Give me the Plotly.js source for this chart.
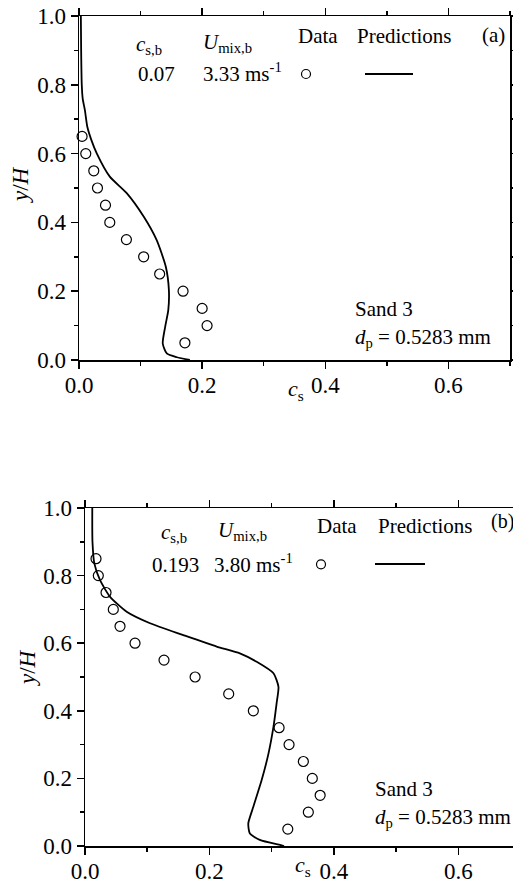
<!DOCTYPE html>
<html>
<head>
<meta charset="utf-8">
<script src="https://cdn.plot.ly/plotly-3.0.1.min.js"></script>
<style>html,body{margin:0;padding:0;background:#fff;}#chart{width:513px;height:885px;}</style>
</head>
<body>
<div id="chart"></div>
<script>
// ---- Panel (a): Sand 3, c_s,b = 0.07, U_mix,b = 3.33 m/s ----
const dataA_cs = [0.005, 0.011, 0.024, 0.030, 0.043, 0.050, 0.077, 0.105, 0.131, 0.169, 0.200, 0.208, 0.172];
const dataA_y  = [0.65, 0.60, 0.55, 0.50, 0.45, 0.40, 0.35, 0.30, 0.25, 0.20, 0.15, 0.10, 0.05];
const predA_cs = [0.003, 0.0035, 0.0045, 0.006, 0.0095, 0.0135, 0.020, 0.029, 0.050, 0.0775, 0.105, 0.126, 0.141, 0.146, 0.145, 0.140, 0.136, 0.1426, 0.159, 0.180];
const predA_y  = [1.00, 0.90, 0.80, 0.76, 0.727, 0.678, 0.64, 0.60, 0.533, 0.485, 0.417, 0.349, 0.271, 0.203, 0.145, 0.097, 0.048, 0.019, 0.008, 0.0];

// ---- Panel (b): Sand 3, c_s,b = 0.193, U_mix,b = 3.80 m/s ----
const dataB_cs = [0.0177, 0.0214, 0.0338, 0.0455, 0.0563, 0.0804, 0.127, 0.177, 0.231, 0.2706, 0.312, 0.328, 0.351, 0.3654, 0.378, 0.359, 0.326];
const dataB_y  = [0.85, 0.80, 0.75, 0.70, 0.65, 0.60, 0.55, 0.50, 0.45, 0.40, 0.35, 0.30, 0.25, 0.20, 0.15, 0.10, 0.05];
const predB_cs = [0.0117, 0.012, 0.015, 0.024, 0.040, 0.067, 0.1045, 0.158, 0.2117, 0.249, 0.276, 0.303, 0.311, 0.308, 0.303, 0.295, 0.284, 0.2706, 0.2625, 0.265, 0.281, 0.3135, 0.320];
const predB_y  = [1.00, 0.90, 0.836, 0.787, 0.738, 0.693, 0.659, 0.624, 0.590, 0.570, 0.545, 0.511, 0.471, 0.422, 0.353, 0.274, 0.195, 0.116, 0.067, 0.037, 0.018, 0.003, 0.0];

const yTicks = [0.0, 0.2, 0.4, 0.6, 0.8, 1.0];
const xTicks = [0.0, 0.2, 0.4, 0.6];

const W = 513, H = 885;
const FONT = '"Liberation Serif", "Times New Roman", Times, serif';
const px = v => v / W;
const py = v => 1 - v / H;

function axisX(domain, range, anchor) {
  return {
    domain: domain, range: range, anchor: anchor,
    tickmode: 'array', tickvals: xTicks, ticktext: xTicks.map(v => v.toFixed(1)),
    ticks: 'outside', ticklen: 7, tickwidth: 1.5, tickcolor: '#000',
    ticklabelstandoff: -3,
    minor: {tickmode: 'linear', tick0: 0, dtick: 0.1, ticks: 'outside', ticklen: 4, tickwidth: 1.5, tickcolor: '#000', showgrid: false},
    showline: true, linecolor: '#000', linewidth: 1.5, mirror: 'ticks',
    showgrid: false, zeroline: false, automargin: false, fixedrange: true,
    tickfont: {family: FONT, size: 23, color: '#000'}
  };
}
function axisY(domain, anchor, mirror) {
  return {
    domain: domain, range: [0, 1], anchor: anchor,
    tickmode: 'array', tickvals: yTicks, ticktext: yTicks.map(v => v.toFixed(1)),
    ticks: 'outside', ticklen: 7, tickwidth: 1.5, tickcolor: '#000',
    minor: {tickmode: 'linear', tick0: 0, dtick: 0.1, ticks: 'outside', ticklen: 4, tickwidth: 1.5, tickcolor: '#000', showgrid: false},
    showline: true, linecolor: '#000', linewidth: 1.5, mirror: mirror,
    showgrid: false, zeroline: false, automargin: false, fixedrange: true,
    tickfont: {family: FONT, size: 23, color: '#000'}
  };
}

const traces = [
  {x: predA_cs, y: predA_y, xaxis: 'x', yaxis: 'y', mode: 'lines', line: {color: '#000', width: 1.8, shape: 'spline', smoothing: 0.6}, cliponaxis: false, hoverinfo: 'skip'},
  {x: dataA_cs, y: dataA_y, xaxis: 'x', yaxis: 'y', mode: 'markers', marker: {symbol: 'circle-open', size: 10, color: '#000', line: {width: 1.2, color: '#000'}}, cliponaxis: false},
  {x: predB_cs, y: predB_y, xaxis: 'x2', yaxis: 'y2', mode: 'lines', line: {color: '#000', width: 1.8, shape: 'spline', smoothing: 0.6}, cliponaxis: false, hoverinfo: 'skip'},
  {x: dataB_cs, y: dataB_y, xaxis: 'x2', yaxis: 'y2', mode: 'markers', marker: {symbol: 'circle-open', size: 10, color: '#000', line: {width: 1.2, color: '#000'}}, cliponaxis: false}
];

function ann(text, x, y, opts) {
  return Object.assign({
    text: text, xref: 'paper', yref: 'paper', x: px(x), y: py(y),
    xanchor: 'left', yanchor: 'middle', showarrow: false,
    font: {family: FONT, size: 21, color: '#000'}
  }, opts || {});
}

const annotations = [
  // panel (a)
  ann('<i>c</i><sub>s,b</sub>', 134, 45),
  ann('<i>U</i><sub>mix,b</sub>', 201, 43),
  ann('Data', 296, 36),
  ann('Predictions', 355, 36),
  ann('(a)', 480, 35),
  ann('0.07', 136, 74),
  ann('3.33 ms<sup>-1</sup>', 201, 72),
  ann('Sand 3', 353, 309),
  ann('<i>d</i><sub>p</sub> = 0.5283 mm', 353, 338),
  ann('<i>c</i><sub>s</sub>', 286, 390, {font: {family: FONT, size: 22, color: '#000'}}),
  ann('<i>y</i>/<i>H</i>', 21, 185, {xanchor: 'center', textangle: -90, font: {family: FONT, size: 23, color: '#000'}}),
  // panel (b)
  ann('<i>c</i><sub>s,b</sub>', 159, 533),
  ann('<i>U</i><sub>mix,b</sub>', 216, 531),
  ann('Data', 315, 526),
  ann('Predictions', 376, 526),
  ann('(b)', 489, 521, {font: {family: FONT, size: 20, color: '#000'}}),
  ann('0.193', 150, 565),
  ann('3.80 ms<sup>-1</sup>', 212, 563),
  ann('Sand 3', 373, 789),
  ann('<i>d</i><sub>p</sub> = 0.5283 mm', 373, 818),
  ann('<i>c</i><sub>s</sub>', 293, 866, {font: {family: FONT, size: 22, color: '#000'}}),
  ann('<i>y</i>/<i>H</i>', 27, 668, {xanchor: 'center', textangle: -90, font: {family: FONT, size: 23, color: '#000'}})
];

// legend symbols (decorations, paper coordinates)
const shapes = [
  {type: 'circle', xref: 'paper', yref: 'paper', x0: px(301.5), x1: px(310.5), y0: py(78.5), y1: py(69.5), line: {color: '#000', width: 1.2}},
  {type: 'line', xref: 'paper', yref: 'paper', x0: px(365), x1: px(413), y0: py(74), y1: py(74), line: {color: '#000', width: 2}},
  {type: 'circle', xref: 'paper', yref: 'paper', x0: px(316.5), x1: px(325.5), y0: py(568.8), y1: py(559.8), line: {color: '#000', width: 1.2}},
  {type: 'line', xref: 'paper', yref: 'paper', x0: px(375), x1: px(425), y0: py(564), y1: py(564), line: {color: '#000', width: 2}}
];

const layout = {
  width: W, height: H,
  margin: {l: 0, r: 0, t: 0, b: 0, pad: 0},
  paper_bgcolor: '#fff', plot_bgcolor: '#fff',
  showlegend: false,
  font: {family: FONT, color: '#000'},
  xaxis: axisX([px(79), px(510)], [0, 0.7], 'y'),
  yaxis: axisY([py(360), py(16)], 'x', 'ticks'),
  xaxis2: axisX([px(85), 1], [0, 0.688], 'y2'),
  yaxis2: axisY([py(846), py(508)], 'x2', false),
  annotations: annotations,
  shapes: shapes
};

Plotly.newPlot('chart', traces, layout, {staticPlot: true, displayModeBar: false});
</script>
</body>
</html>
